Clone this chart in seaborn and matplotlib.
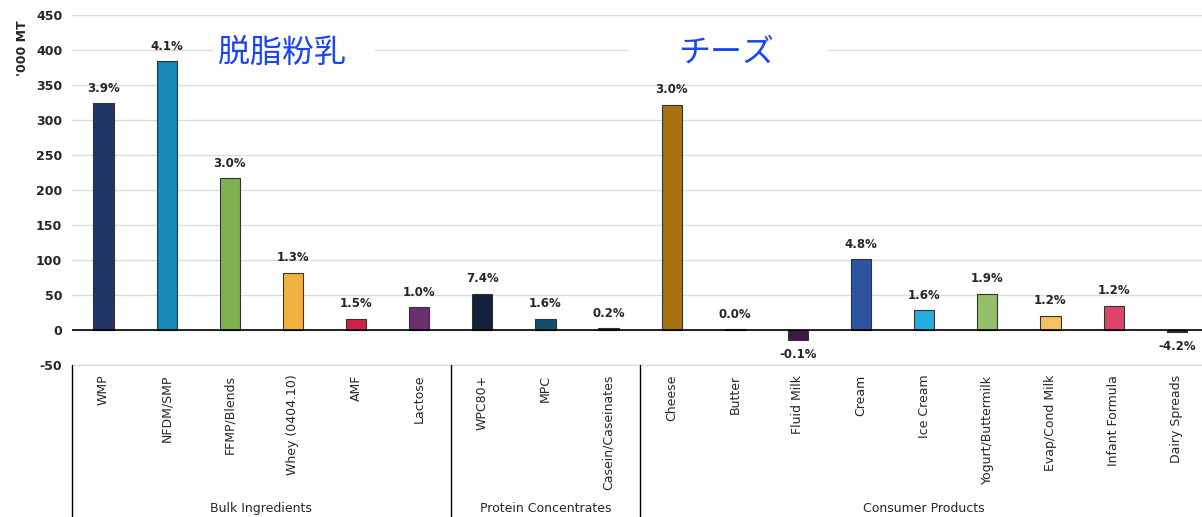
import matplotlib
matplotlib.use("Agg")
import matplotlib.pyplot as plt
import matplotlib.transforms as mtransforms
import seaborn as sns
import pandas as pd

# chart data
categories = ["WMP", "NFDM/SMP", "FFMP/Blends", "Whey (0404.10)", "AMF", "Lactose",
              "WPC80+", "MPC", "Casein/Caseinates",
              "Cheese", "Butter", "Fluid Milk", "Cream", "Ice Cream", "Yogurt/Buttermilk",
              "Evap/Cond Milk", "Infant Formula", "Dairy Spreads"]
volumes = [324, 384, 217, 82, 16, 33,
           52, 16, 2.5,
           322, 1.5, -14, 101, 28, 52, 20.5, 35, -2.5]
growth = ["3.9%", "4.1%", "3.0%", "1.3%", "1.5%", "1.0%",
          "7.4%", "1.6%", "0.2%",
          "3.0%", "0.0%", "-0.1%", "4.8%", "1.6%", "1.9%", "1.2%", "1.2%", "-4.2%"]
groups = ["Bulk Ingredients", "Protein Concentrates", "Consumer Products"]
group_sizes = [6, 3, 9]
bar_colors = ["#1f3564", "#1789b6", "#7db24e", "#f2b23e", "#d42042", "#6a2f6e",
              "#14213d", "#13506b", "#555555",
              "#a8720f", "#9a9a9a", "#3d1a45", "#2e54a0", "#22aee3", "#94c06c",
              "#f5c262", "#e04468", "#3a1848"]

df = pd.DataFrame({"cat": categories, "val": volumes})

sns.set_style("white")
plt.rcParams["font.family"] = ["DejaVu Sans", "Noto Sans CJK JP"]
plt.rcParams["axes.unicode_minus"] = False

fig = plt.figure(figsize=(12.02, 5.17), dpi=100)
ax = fig.add_axes([72 / 1202, 152 / 517, 1130 / 1202, 350 / 517])

sns.barplot(data=df, x="cat", y="val", hue="cat", palette=bar_colors, legend=False,
            saturation=1, width=0.32, edgecolor="#333333", linewidth=0.8, ax=ax, zorder=3)

ax.set_ylim(-50, 450)
ax.set_xlim(-0.5, 17.4)
ax.set_yticks(range(-50, 451, 50))
ax.set_axisbelow(True)
ax.yaxis.grid(True, color="#dcdcdc", linewidth=1)
ax.axhline(-50, color="#dcdcdc", linewidth=1, clip_on=False, zorder=0.5)
ax.axhline(0, color="black", linewidth=1.2, zorder=4)
for s in ax.spines.values():
    s.set_visible(False)
ax.tick_params(axis="y", length=0, pad=7, labelsize=9)
for t in ax.get_yticklabels():
    t.set_fontweight("bold")
ax.set_xlabel("")
ax.set_ylabel("")
ax.set_xticks(range(len(categories)))
ax.set_xticklabels(categories, rotation=90, fontsize=9, va="top")
ax.tick_params(axis="x", length=0, pad=7)

# percent labels
for i, (v, g) in enumerate(zip(volumes, growth)):
    off = 6 if v >= 0 else -6
    ax.annotate(g, (i, v), xytext=(0, off), textcoords="offset points",
                ha="center", va="bottom" if v >= 0 else "top",
                fontsize=8.5, fontweight="bold", zorder=5)

# group separators and labels
trans = mtransforms.blended_transform_factory(ax.transData, ax.transAxes)
start = 0
edges = [-0.5]
for name, n in zip(groups, group_sizes):
    ax.text(start + (n - 1) / 2, -0.41, name, transform=trans, ha="center",
            va="center", fontsize=9)
    start += n
    edges.append(start - 0.5)
for e in edges[:-1]:
    ax.plot([e, e], [0, -0.45], transform=trans, color="black", lw=1, clip_on=False)

# y label
fig.text(22 / 1202, 1 - 48 / 517, "'000 MT", rotation=90, ha="center", va="center",
         fontsize=9, fontweight="bold")

# Japanese annotations on white boxes over the 400 gridline
jp = ["Noto Sans CJK JP"]
ax.text(3.02, 400, "\u3000" * 5, fontsize=23, ha="center", va="center", family=jp,
        zorder=2, bbox=dict(facecolor="white", edgecolor="none", pad=1))
ax.text(9.89, 400, "\u3000" * 6, fontsize=23, ha="center", va="center", family=jp,
        zorder=2, bbox=dict(facecolor="white", edgecolor="none", pad=3))
ax.text(1.81, 396, "脱脂粉乳", color="#1a44f5", fontsize=23, ha="left", va="center",
        family=jp, zorder=6)
ax.text(9.87, 396, "チーズ", color="#1a44f5", fontsize=23, ha="center", va="center",
        family=jp, zorder=6)

plt.savefig("out.png", dpi=100)
